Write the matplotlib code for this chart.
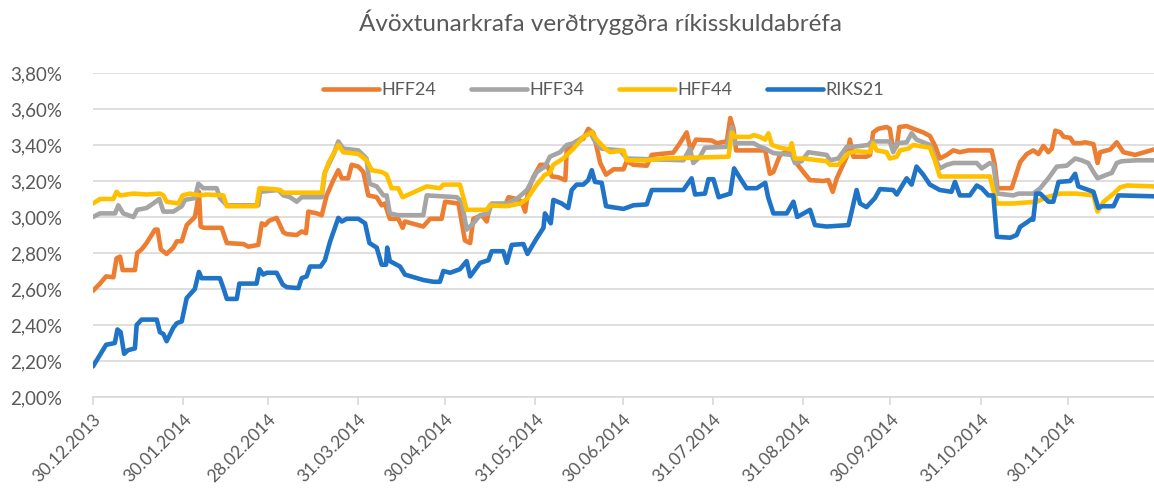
#!/usr/bin/env python

# yields on indexed government bonds (Ávöxtunarkrafa) through 2014

import numpy as np
import pandas as pd
from matplotlib import pyplot as plt
from matplotlib import ticker

title = 'Ávöxtunarkrafa verðtryggðra ríkisskuldabréfa'
start = pd.Timestamp('2013-12-30')

# days after 30.12.2013 and yield in %
hff24_days = [0, 2.4, 4.5, 7, 8.1, 9.3, 10.2, 14.4, 15.2, 16.7, 18.4, 21.3, 22.2, 23.3, 25.3,
              27.6, 28.8, 30.5, 32.2, 35, 35.6, 36.4, 37, 38.1, 44.2, 46, 51.7, 53.4, 56.8, 58,
              59.1, 60.6, 63.1, 65.4, 66.6, 70, 71.7, 73.2, 74, 76.9, 78.6, 80.3, 82.6, 84.3,
              85.5, 87.7, 88.9, 91.2, 92.9, 94.6, 97.5, 99.2, 100.3, 102, 104.9, 106.4, 107.2,
              113.5, 115.8, 119.8, 121, 125.6, 127.8, 129.6, 130.7, 133.6, 135.3, 136.4, 141.6,
              142.8, 145.6, 147.3, 148.5, 149.6, 151.4, 153.7, 156, 157.7, 160, 162.3, 162.8,
              166.2, 168.5, 170.2, 172, 174.3, 176.3, 178.9, 182.3, 183.4, 185.7, 190.3, 192,
              194.8, 199.4, 201.7, 204, 205.4, 207.2, 212.6, 214.3, 217.8, 219, 220.1, 221, 227,
              229.2, 231, 232.6, 233.8, 236.1, 237.8, 240.1, 241.2, 244.1, 246.4, 251, 252.7,
              254.2, 255.6, 259, 260.1, 261.3, 265.8, 267, 268.1, 269.8, 272.7, 273.8, 275,
              276.2, 277.1, 279.6, 281.9, 285.3, 287.6, 289.4, 291, 293.4, 295.6, 297.9, 300.8,
              308.8, 309.9, 310.8, 315.7, 316.8, 318.6, 320.9, 323.1, 324.9, 326.6, 328.3, 329.5,
              330.7, 332.4, 333.6, 335.8, 337, 339.3, 341, 343.8, 345.2, 346.1, 349.6, 351.8,
              354.1, 358.1, 364.6]
hff24 = [2.59, 2.63, 2.67, 2.665, 2.77, 2.78, 2.705, 2.705, 2.80, 2.82, 2.855, 2.93, 2.93, 2.82,
         2.795, 2.83, 2.865, 2.865, 2.955, 3.00, 3.05, 3.14, 2.947, 2.94, 2.94, 2.855, 2.85, 2.835,
         2.845, 2.965, 2.955, 2.98, 2.995, 2.915, 2.905, 2.90, 2.92, 2.91, 3.03, 3.02, 3.01, 3.12,
         3.205, 3.26, 3.215, 3.215, 3.29, 3.28, 3.25, 3.12, 3.11, 3.065, 3.075, 2.99, 2.99, 2.94,
         2.975, 2.947, 2.99, 2.99, 3.085, 3.075, 2.87, 2.855, 2.99, 3.01, 2.975, 3.065, 3.065,
         3.11, 3.10, 3.085, 3.03, 3.15, 3.225, 3.29, 3.29, 3.225, 3.22, 3.205, 3.37, 3.42, 3.435,
         3.49, 3.465, 3.30, 3.235, 3.265, 3.265, 3.31, 3.29, 3.285, 3.345, 3.35, 3.357, 3.41,
         3.47, 3.37, 3.43, 3.425, 3.41, 3.42, 3.55, 3.49, 3.37, 3.37, 3.37, 3.37, 3.24, 3.25,
         3.345, 3.36, 3.37, 3.31, 3.25, 3.205, 3.20, 3.205, 3.14, 3.215, 3.335, 3.43, 3.335,
         3.335, 3.345, 3.47, 3.49, 3.50, 3.49, 3.37, 3.395, 3.50, 3.505, 3.49, 3.47, 3.45, 3.395,
         3.325, 3.345, 3.37, 3.36, 3.37, 3.37, 3.29, 3.16, 3.16, 3.215, 3.305, 3.35, 3.37, 3.35,
         3.395, 3.36, 3.38, 3.48, 3.47, 3.445, 3.44, 3.41, 3.41, 3.415, 3.405, 3.30, 3.36, 3.375,
         3.415, 3.36, 3.345, 3.375]

hff34_days = [0, 2.4, 7.6, 8.7, 10.4, 13.9, 15.2, 18.4, 20.7, 22.8, 24.2, 27.6, 30.5, 31.6, 35,
              36.2, 37.9, 42.5, 43.6, 46, 56.8, 57.4, 63.7, 65.4, 67.7, 70, 71.7, 78.6, 79.7,
              82.6, 84.3, 86, 91.2, 94, 95, 97.5, 99.8, 100.9, 102, 104.9, 113.5, 114.7, 125,
              126.7, 128.4, 130.7, 133, 135.9, 137, 142.2, 145.6, 149.1, 152.5, 155.3, 157,
              160.5, 162.8, 165.1, 168.5, 170.8, 172.5, 174.8, 181.1, 183.4, 202.9, 205.1, 206.3,
              208.6, 210.3, 217.8, 219.5, 220.6, 227, 229.2, 231, 233.8, 240.1, 241.2, 243.5,
              245.8, 252.1, 253.3, 256.1, 259, 261.3, 266.4, 267.6, 273.8, 275, 276.2, 279.6,
              281.3, 283, 287.6, 289.4, 291, 293.4, 295.6, 303.7, 305.4, 308.2, 309.4, 310.8,
              316.3, 318, 323.1, 325.5, 328.3, 331.2, 334.6, 337.5, 339.7, 342, 343.8, 345.2,
              348.4, 350.1, 351.8, 353.5, 358.7, 364.6]
hff34 = [3.00, 3.02, 3.02, 3.065, 3.02, 3.00, 3.04, 3.05, 3.075, 3.10, 3.03, 3.03, 3.06, 3.095,
         3.105, 3.185, 3.16, 3.16, 3.105, 3.065, 3.065, 3.14, 3.15, 3.12, 3.11, 3.085, 3.11, 3.11,
         3.25, 3.345, 3.42, 3.38, 3.37, 3.325, 3.185, 3.17, 3.12, 3.12, 3.02, 3.01, 3.01, 3.12,
         3.11, 3.085, 2.93, 2.965, 3.01, 3.02, 3.075, 3.075, 3.10, 3.15, 3.25, 3.28, 3.335, 3.36,
         3.40, 3.41, 3.445, 3.47, 3.42, 3.38, 3.37, 3.325, 3.315, 3.38, 3.30, 3.335, 3.385, 3.39,
         3.50, 3.41, 3.41, 3.39, 3.38, 3.355, 3.345, 3.30, 3.31, 3.36, 3.345, 3.315, 3.325, 3.39,
         3.39, 3.40, 3.42, 3.42, 3.36, 3.41, 3.415, 3.465, 3.43, 3.40, 3.325, 3.27, 3.29, 3.30,
         3.30, 3.27, 3.30, 3.29, 3.13, 3.12, 3.13, 3.13, 3.16, 3.215, 3.28, 3.285, 3.325, 3.315,
         3.30, 3.25, 3.215, 3.235, 3.245, 3.30, 3.31, 3.315, 3.315]

hff44_days = [0, 2.4, 7, 8.1, 9.3, 13.9, 18.4, 23, 24.2, 25.3, 29.3, 30.8, 33.3, 36.8, 39.1, 44.8,
              46, 56.2, 57.2, 62, 64.3, 65.4, 78.6, 79.4, 80.9, 84.3, 86, 91.2, 94, 95.8, 99.2,
              100.9, 102.6, 104.9, 106.4, 114.7, 119.2, 120.4, 126.1, 128.4, 135.3, 136.4, 142.2,
              146.8, 149.1, 152.5, 155.3, 157, 158.2, 161.6, 165.1, 168.5, 171.4, 173.1, 176,
              177.7, 182.3, 183.4, 190.3, 196, 218.4, 219.5, 220.6, 225.8, 227, 229.2, 231,
              232.1, 233.3, 236.1, 239.5, 240.1, 241.2, 244.1, 252.1, 253.3, 256.1, 259.6, 262.4,
              267, 268.1, 269.3, 272.7, 273.8, 276.2, 277.3, 280.2, 281.9, 287.6, 289.4, 291,
              297.9, 308.2, 309.4, 310.6, 316.3, 324.3, 327.7, 330, 332.4, 338.1, 343.8, 345.2,
              347.3, 350.7, 353, 355.3, 364.6]
hff44 = [3.075, 3.10, 3.10, 3.14, 3.12, 3.13, 3.125, 3.13, 3.12, 3.085, 3.075, 3.12, 3.13, 3.12,
         3.125, 3.12, 3.06, 3.06, 3.16, 3.155, 3.15, 3.135, 3.135, 3.23, 3.30, 3.40, 3.36, 3.35,
         3.315, 3.26, 3.25, 3.235, 3.16, 3.16, 3.11, 3.17, 3.16, 3.18, 3.18, 3.04, 3.04, 3.065,
         3.06, 3.075, 3.10, 3.18, 3.235, 3.245, 3.29, 3.325, 3.38, 3.445, 3.47, 3.43, 3.38, 3.36,
         3.37, 3.315, 3.315, 3.325, 3.335, 3.47, 3.445, 3.445, 3.455, 3.445, 3.43, 3.465, 3.40,
         3.385, 3.375, 3.41, 3.325, 3.325, 3.31, 3.29, 3.29, 3.355, 3.365, 3.36, 3.41, 3.37, 3.36,
         3.325, 3.335, 3.37, 3.38, 3.40, 3.385, 3.31, 3.225, 3.225, 3.225, 3.15, 3.075, 3.075,
         3.085, 3.11, 3.12, 3.13, 3.13, 3.12, 3.03, 3.085, 3.13, 3.165, 3.175, 3.17]

riks21_days = [0, 4.5, 7.5, 8.4, 9.5, 10.7, 12, 14.4, 15, 16.7, 21.9, 23, 24.2, 25.3, 27.6, 28.8,
               30.5, 32.2, 35, 35.6, 36.4, 37.3, 43.6, 44.8, 46, 49.4, 50.3, 56.2, 57.2, 58.5,
               59.7, 63.1, 65.2, 66.6, 70.6, 71.7, 73.4, 74.6, 78.2, 79.7, 81.4, 84.3, 85.5,
               87.2, 91.2, 93.5, 95, 97.5, 99.2, 100.7, 101.1, 102, 105.5, 107.2, 113.5, 117,
               119.2, 120.4, 122.7, 126.1, 128.4, 129.6, 133, 135.9, 137, 141, 142.2, 143.9,
               147.9, 149.3, 152.4, 154.8, 155.3, 157.3, 158.2, 161.1, 163.3, 164.5, 166.2,
               168.5, 170.2, 171.4, 172.5, 174.8, 176.3, 182.3, 185.7, 190.3, 192, 202.9, 205.7,
               206.9, 210.3, 211.5, 213.2, 215, 219, 220.3, 222.4, 224.6, 228.1, 231, 232,
               233.8, 238.4, 240.7, 242, 246.4, 248.1, 252.1, 259.6, 260.7, 262.4, 263.6, 265.8,
               268.7, 270.4, 275, 276.2, 279.6, 281.3, 283, 285.3, 287.6, 291, 295, 296.2,
               297.9, 301.3, 303.7, 305.4, 307.7, 309.4, 310.6, 315.2, 317.4, 318.6, 320.9,
               322.6, 323.1, 324.1, 325.5, 328.3, 330, 331.8, 335.8, 337.5, 338.6, 343.8, 345.5,
               346.7, 350.7, 352.4, 364.6]
riks21 = [2.17, 2.29, 2.30, 2.375, 2.36, 2.24, 2.26, 2.27, 2.40, 2.43, 2.43, 2.36, 2.35, 2.31,
          2.385, 2.41, 2.42, 2.55, 2.60, 2.64, 2.695, 2.66, 2.66, 2.605, 2.545, 2.545, 2.63, 2.63,
          2.71, 2.68, 2.69, 2.69, 2.625, 2.61, 2.605, 2.66, 2.67, 2.725, 2.725, 2.76, 2.86, 2.995,
          2.975, 2.99, 2.99, 2.965, 2.855, 2.83, 2.735, 2.735, 2.83, 2.755, 2.725, 2.68, 2.65,
          2.64, 2.64, 2.70, 2.69, 2.71, 2.755, 2.67, 2.745, 2.76, 2.81, 2.81, 2.745, 2.845, 2.85,
          2.795, 2.88, 2.94, 3.02, 2.965, 3.095, 3.075, 3.05, 3.15, 3.18, 3.18, 3.205, 3.26,
          3.195, 3.19, 3.06, 3.045, 3.065, 3.07, 3.15, 3.15, 3.215, 3.125, 3.13, 3.21, 3.21,
          3.11, 3.13, 3.27, 3.215, 3.16, 3.16, 3.19, 3.11, 3.02, 3.02, 3.085, 3.00, 3.04, 2.955,
          2.947, 2.955, 3.03, 3.15, 3.075, 3.055, 3.105, 3.155, 3.15, 3.125, 3.215, 3.18, 3.28,
          3.235, 3.18, 3.15, 3.14, 3.195, 3.12, 3.12, 3.175, 3.16, 3.12, 3.12, 2.89, 2.885, 2.90,
          2.945, 2.97, 2.99, 2.985, 3.13, 3.13, 3.085, 3.085, 3.195, 3.20, 3.24, 3.17, 3.14,
          3.05, 3.06, 3.06, 3.12, 3.115]

tick_dates = ['30.12.2013', '30.01.2014', '28.02.2014', '31.03.2014', '30.04.2014',
              '31.05.2014', '30.06.2014', '31.07.2014', '31.08.2014', '30.09.2014',
              '31.10.2014', '30.11.2014']

series = [('HFF24', hff24_days, hff24, '#ED7D31'),
          ('HFF34', hff34_days, hff34, '#A5A5A5'),
          ('HFF44', hff44_days, hff44, '#FFC000'),
          ('RIKS21', riks21_days, riks21, '#1F74C8')]

plt.rcParams['font.family'] = ['Lato', 'DejaVu Sans']
text_color = '#595959'

fig = plt.figure(figsize=(11.54, 4.96), dpi=100)
ax = fig.add_axes([93/1154, 1 - 397/496, 1 - 93/1154, (397 - 73)/496])

for name, days, vals, color in series:
    dates = start + pd.to_timedelta(np.array(days), unit='D')
    ax.plot(dates, vals, color=color, lw=3.3, label=name, solid_capstyle='round',
            solid_joinstyle='round')

ax.set_ylim(2.0, 3.8)
ax.set_xlim(start, start + pd.Timedelta(days=364.6))
ax.yaxis.set_major_locator(ticker.MultipleLocator(0.2))
ax.yaxis.set_major_formatter(ticker.FuncFormatter(
    lambda v, p: ('%.2f%%' % v).replace('.', ',')))
ax.grid(axis='y', color='#D9D9D9', lw=1.2)
ax.set_axisbelow(True)

ticks = pd.to_datetime(tick_dates, format='%d.%m.%Y')
ax.set_xticks(ticks)
ax.set_xticklabels(tick_dates, rotation=45, ha='right', rotation_mode='anchor')

for side in ['top', 'right', 'left']:
    ax.spines[side].set_visible(False)
ax.spines['bottom'].set_color('#D9D9D9')
ax.spines['bottom'].set_linewidth(1.2)
ax.tick_params(axis='x', colors='#D9D9D9', labelcolor=text_color, labelsize=12.5,
               length=6, width=1.2, pad=4)
ax.tick_params(axis='y', length=0, labelcolor=text_color, labelsize=13.5, pad=22)

ax.legend(loc='upper center', bbox_to_anchor=(0.481, 1.022), ncol=4, frameon=False,
          fontsize=13, labelcolor=text_color, handlelength=3.1, columnspacing=1.9,
          handletextpad=0.15)

fig.text(600/1154, 1 - 22/496, title, ha='center', va='center', fontsize=17.5,
         color=text_color)

fig.savefig('out.png', dpi=100)
